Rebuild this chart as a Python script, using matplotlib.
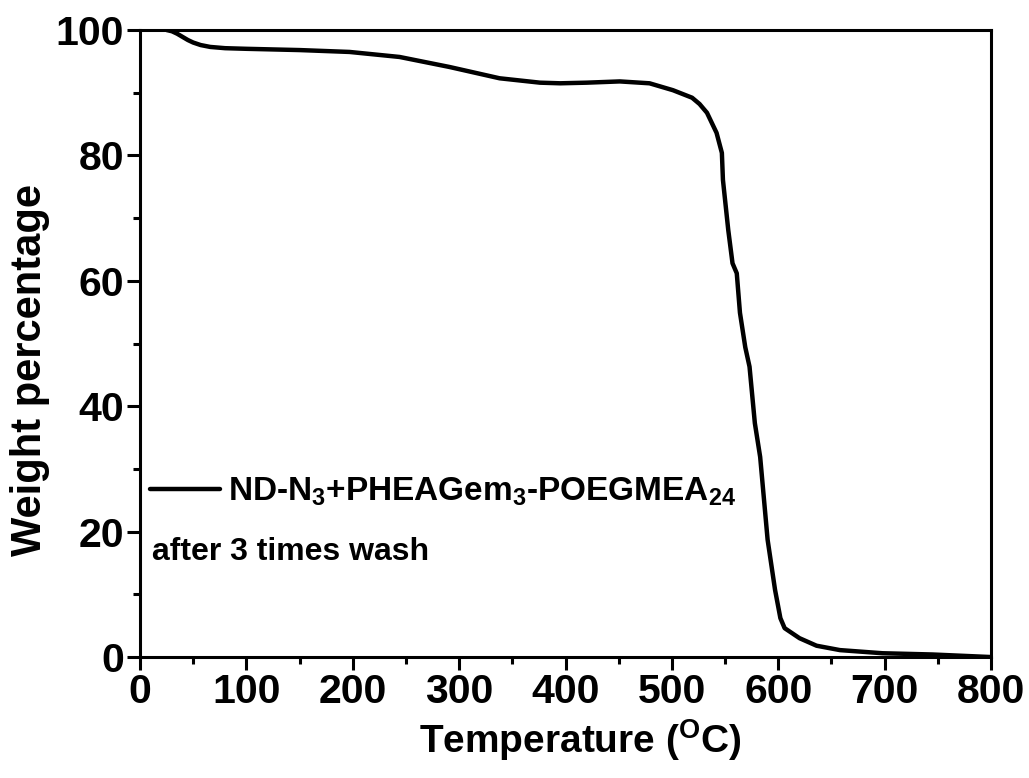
import matplotlib
matplotlib.use("Agg")
import matplotlib.pyplot as plt
from matplotlib.ticker import MultipleLocator

plt.rcParams['font.family'] = ['Liberation Sans', 'DejaVu Sans']
plt.rcParams['font.weight'] = 'bold'
plt.rcParams['mathtext.fontset'] = 'custom'
plt.rcParams['mathtext.rm'] = 'Liberation Sans:bold'
plt.rcParams['mathtext.bf'] = 'Liberation Sans:bold'
plt.rcParams['mathtext.it'] = 'Liberation Sans:bold'
plt.rcParams['mathtext.default'] = 'rm'

# TGA curve: temperature (°C) vs remaining weight (%)
temperature = [25, 30, 35, 40, 45, 50, 57, 66, 80, 100, 150, 197, 244, 291,
               338, 376, 395, 420, 451, 479, 501, 519, 526, 533, 542, 547, 548,
               553, 557, 561, 564, 569, 573, 578, 583, 590, 597, 602, 606, 620,
               636, 658, 698, 745, 799]
weight = [100.0, 99.8, 99.4, 98.9, 98.4, 98.0, 97.6, 97.3, 97.1, 97.0, 96.8,
          96.5, 95.7, 94.1, 92.3, 91.6, 91.5, 91.6, 91.8, 91.5, 90.4, 89.2,
          88.2, 86.8, 83.6, 80.4, 76.1, 68.1, 62.8, 61.2, 54.9, 49.4, 46.3,
          37.3, 31.9, 18.7, 10.7, 6.2, 4.6, 3.0, 1.8, 1.1, 0.6, 0.4, 0.0]

series_label = "ND-N$_3$+PHEAGem$_3$-POEGMEA$_{24}$"
note_text = "after 3 times wash"
x_ticks = [0, 100, 200, 300, 400, 500, 600, 700, 800]
y_ticks = [0, 20, 40, 60, 80, 100]

fig = plt.figure(figsize=(10.29, 7.78), dpi=100)
ax = fig.add_axes([140 / 1029, 1 - 657 / 778, 851 / 1029, 627 / 778])

ax.plot(temperature, weight, color='black', lw=3.2, solid_joinstyle='round',
        solid_capstyle='round', label=series_label)

ax.set_xlim(0, 800)
ax.set_ylim(0, 100)
ax.set_xticks(x_ticks)
ax.set_yticks(y_ticks)
ax.xaxis.set_minor_locator(MultipleLocator(50))
ax.yaxis.set_minor_locator(MultipleLocator(10))

for s in ax.spines.values():
    s.set_linewidth(2.2)
ax.tick_params(which='major', direction='out', length=9.5, width=2.2,
               labelsize=29.5, pad=2)
ax.tick_params(which='minor', direction='out', length=5, width=2.2)
ax.tick_params(top=False, right=False, which='both')
for lbl in ax.get_xticklabels() + ax.get_yticklabels():
    lbl.set_fontweight('bold')

fig.text(580 / 1029, 1 - 740 / 778, "Temperature ($^{\\mathrm{O}}$C)",
         fontsize=28, fontweight='bold', ha='center', va='center')
fig.text(30 / 1029, 1 - 370 / 778, "Weight percentage", fontsize=30,
         fontweight='bold', ha='center', va='center', rotation=90)

leg = ax.legend(loc='upper left', bbox_to_anchor=(0.0, 0.305), frameon=False,
                fontsize=24, handlelength=2.1, handletextpad=0.25,
                borderaxespad=0.0, borderpad=0.3)
for t in leg.get_texts():
    t.set_fontweight('bold')

ax.text(0.014, 0.168, note_text, transform=ax.transAxes, fontsize=23,
        fontweight='bold', va='center', ha='left')

fig.savefig("out.png", dpi=100)
